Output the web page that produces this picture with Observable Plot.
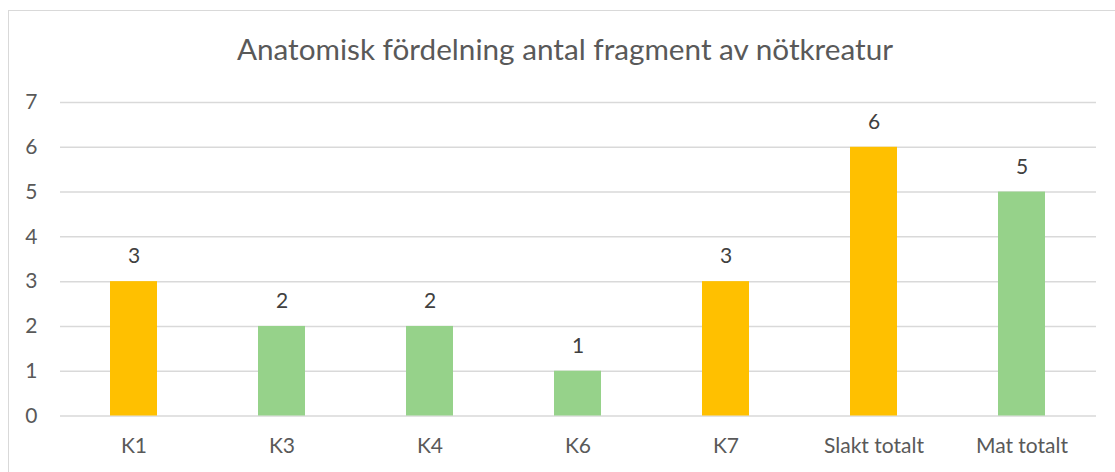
<!DOCTYPE html>
<html>
<head>
<meta charset="utf-8">
<script src="https://cdn.jsdelivr.net/npm/d3@7"></script>
<script src="https://cdn.jsdelivr.net/npm/@observablehq/plot@0.6"></script>
<style>
  html, body { margin: 0; padding: 0; background: #fff; }
  #wrap { position: relative; width: 1115px; height: 472px; overflow: hidden; font-family: Lato, "Open Sans", sans-serif; }
  #frame { position: absolute; left: 8px; top: 10px; width: 1120px; height: 480px; border-left: 1.5px solid #d9d9d9; border-top: 1.5px solid #d9d9d9; box-sizing: border-box; }
  #title { position: absolute; left: 0; top: 31px; width: 1130px; text-align: center; font-size: 29.7px; color: #595959; white-space: nowrap; }
  #chart { position: absolute; left: 0; top: 0; }
</style>
</head>
<body>
<div id="wrap">
  <div id="frame"></div>
  <div id="chart"></div>
  <div id="title">Anatomisk fördelning antal fragment av nötkreatur</div>
</div>
<script>
const categories = ["K1", "K3", "K4", "K6", "K7", "Slakt totalt", "Mat totalt"];
const counts = [3, 2, 2, 1, 3, 6, 5];
const groups = ["Slakt", "Mat", "Mat", "Mat", "Slakt", "Slakt", "Mat"];
const yTicks = [0, 1, 2, 3, 4, 5, 6, 7];

const data = categories.map((c, i) => ({category: c, value: counts[i], group: groups[i]}));

const chart = Plot.plot({
  width: 1115,
  height: 472,
  marginTop: 102,
  marginBottom: 56.5,
  marginLeft: 60,
  marginRight: 19,
  style: {fontFamily: "Lato, 'Open Sans', sans-serif", fontSize: "21px", color: "#595959", background: "transparent"},
  x: {domain: categories, paddingInner: 0.68, paddingOuter: 0.34, label: null, tickSize: 0, tickPadding: 22},
  y: {domain: [0, 7], ticks: yTicks, label: null, tickSize: 0, tickPadding: 23, tickFormat: d3.format("d")},
  color: {domain: ["Slakt", "Mat"], range: ["#FFC000", "#96D28A"]},
  marks: [
    Plot.gridY(yTicks, {stroke: "#d9d9d9", strokeOpacity: 1, strokeWidth: 1.5}),
    Plot.barY(data, {x: "category", y: "value", fill: "group"}),
    Plot.text(data, {x: "category", y: "value", text: d => String(d.value), dy: -25, fill: "#404040", fontSize: 21})
  ]
});
document.getElementById("chart").appendChild(chart);
</script>
</body>
</html>
